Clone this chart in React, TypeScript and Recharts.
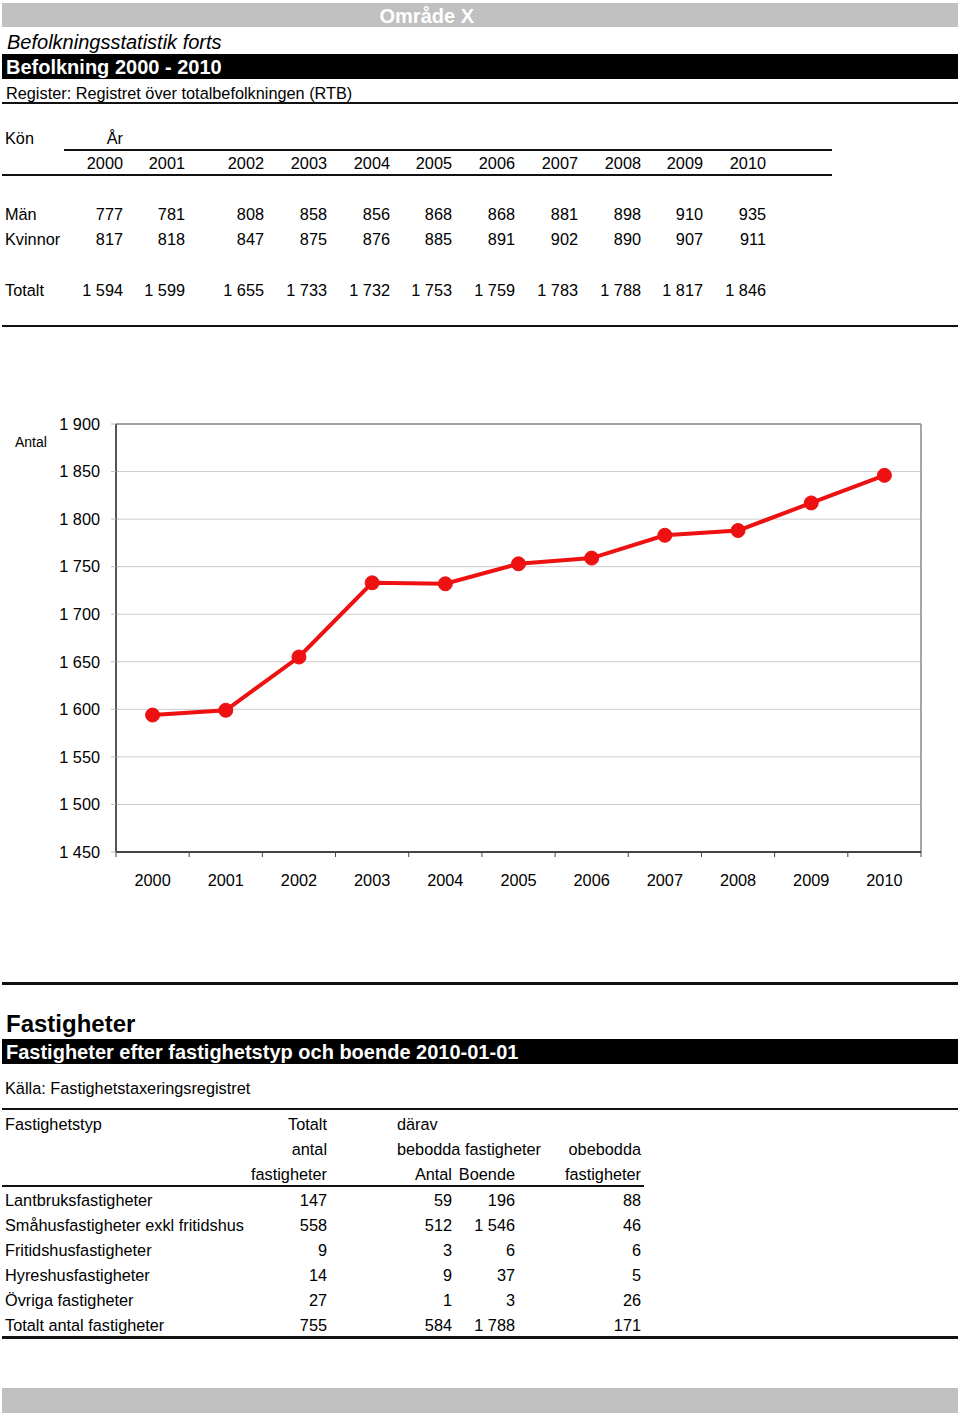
import React from "react"
import { CartesianGrid, Line, LineChart, ReferenceLine, XAxis, YAxis } from "recharts"

const years = ["2000", "2001", "2002", "2003", "2004", "2005", "2006", "2007", "2008", "2009", "2010"]
const men = [777, 781, 808, 858, 856, 868, 868, 881, 898, 910, 935]
const women = [817, 818, 847, 875, 876, 885, 891, 902, 890, 907, 911]
const totals = [1594, 1599, 1655, 1733, 1732, 1753, 1759, 1783, 1788, 1817, 1846]
const yTicks = [1450, 1500, 1550, 1600, 1650, 1700, 1750, 1800, 1850, 1900]

const propTypes = [
  "Lantbruksfastigheter",
  "Småhusfastigheter exkl fritidshus",
  "Fritidshusfastigheter",
  "Hyreshusfastigheter",
  "Övriga fastigheter",
  "Totalt antal fastigheter",
]
const propTotal = [147, 558, 9, 14, 27, 755]
const propInhabited = [59, 512, 3, 9, 1, 584]
const propResidents = [196, 1546, 6, 37, 3, 1788]
const propUninhabited = [88, 46, 6, 5, 26, 171]

// layout: right edges of the year columns in the top table
const colRight = [123, 185, 264, 327, 390, 452, 515, 578, 641, 703, 766]

const fmt = (n: number) => String(n).replace(/\B(?=(\d{3})+(?!\d))/g, " ")

const chartData = years.map((y, i) => ({ i, year: y, total: totals[i] }))
const xTicks = [...years.flatMap((_, i) => [i - 0.5, i]), years.length - 0.5]

function T({ x, y, s = 16.3, r = false, b = false, it = false, c = "#000", children }: any) {
  const style: React.CSSProperties = {
    position: "absolute",
    top: y + 1 - s * 0.6,
    lineHeight: `${s * 1.2}px`,
    fontSize: s,
    fontWeight: b ? "bold" : "normal",
    fontStyle: it ? "italic" : "normal",
    color: c,
    whiteSpace: "nowrap",
  }
  if (r) style.right = 960 - x
  else style.left = x
  return <div style={style}>{children}</div>
}

function Rule({ x1 = 2, x2 = 958, y, h = 2, c = "#111" }: any) {
  return <div style={{ position: "absolute", left: x1, width: x2 - x1, top: y - h / 2, height: h, background: c }} />
}

function Bar({ y1, y2, c }: any) {
  return <div style={{ position: "absolute", left: 2, width: 956, top: y1, height: y2 - y1, background: c }} />
}

function XTick(props: any) {
  const { x, y, payload } = props
  const v = payload.value
  if (Number.isInteger(v)) {
    return (
      <text x={x} y={y + 34} textAnchor="middle" fontSize={16.3} fill="#000">
        {years[v]}
      </text>
    )
  }
  return <line x1={x} y1={y} x2={x} y2={y + 5} stroke="#444" strokeWidth={1} />
}

function PopChart() {
  return (
    <div style={{ position: "absolute", left: 0, top: 404 }}>
      <LineChart width={960} height={488} data={chartData} margin={{ top: 20, right: 39, bottom: 0, left: 1 }}>
        <CartesianGrid horizontal vertical={false} stroke="#cccccc" />
        <XAxis
          dataKey="i"
          type="number"
          domain={[-0.5, 10.5]}
          ticks={xTicks}
          interval={0}
          tickLine={false}
          tickSize={0}
          tickMargin={0}
          height={40}
          axisLine={{ stroke: "#444", strokeWidth: 2 }}
          tick={<XTick />}
        />
        <YAxis
          type="number"
          domain={[1450, 1900]}
          ticks={yTicks}
          interval={0}
          width={115}
          tickSize={5}
          tickMargin={11}
          tickLine={{ stroke: "#bbbbbb" }}
          axisLine={{ stroke: "#555", strokeWidth: 2 }}
          tick={{ fontSize: 16.3, fill: "#000" }}
          tickFormatter={fmt}
        />
        <ReferenceLine y={1900} stroke="#888" strokeWidth={1.5} />
        <ReferenceLine x={10.5} stroke="#888" strokeWidth={1.5} />
        <Line
          type="linear"
          dataKey="total"
          stroke="#ee1111"
          strokeWidth={4}
          dot={{ r: 7, fill: "#ee1111", stroke: "#ee1111", strokeWidth: 1 }}
          isAnimationActive={false}
        />
      </LineChart>
    </div>
  )
}

export default function App() {
  const rowY = (i: number) => 1199.5 + i * 25.1
  return (
    <div
      style={{
        position: "absolute",
        left: 0,
        top: 0,
        width: 960,
        height: 1415,
        background: "#fff",
        fontFamily: "'Liberation Sans', Arial, Helvetica, sans-serif",
        overflow: "hidden",
      }}
    >
      <Bar y1={3} y2={27} c="#c0c0c0" />
      <T x={474} y={15} s={20} r b c="#fff">Område X</T>
      <T x={7} y={41} s={20} it>Befolkningsstatistik forts</T>
      <Bar y1={54} y2={79} c="#000" />
      <T x={6} y={66} s={20} b c="#fff">Befolkning 2000 - 2010</T>
      <T x={6} y={93}>Register: Registret över totalbefolkningen (RTB)</T>
      <Rule y={103} />

      <T x={5} y={138}>Kön</T>
      <T x={123} y={138} r>År</T>
      <Rule x1={64} x2={832} y={149.5} />
      {years.map((yr, i) => (
        <T key={yr} x={colRight[i]} y={163} r>{yr}</T>
      ))}
      <Rule x1={2} x2={832} y={175} />

      <T x={5} y={214}>Män</T>
      <T x={5} y={239}>Kvinnor</T>
      <T x={5} y={290}>Totalt</T>
      {years.map((yr, i) => (
        <React.Fragment key={yr}>
          <T x={colRight[i]} y={214} r>{fmt(men[i])}</T>
          <T x={colRight[i]} y={239} r>{fmt(women[i])}</T>
          <T x={colRight[i]} y={290} r>{fmt(totals[i])}</T>
        </React.Fragment>
      ))}
      <Rule y={326} />

      <T x={15} y={441} s={14}>Antal</T>
      <PopChart />

      <Rule y={983} h={3} />
      <T x={6} y={1023} s={24} b>Fastigheter</T>
      <Bar y1={1039} y2={1064} c="#000" />
      <T x={6} y={1051} s={20} b c="#fff">Fastigheter efter fastighetstyp och boende 2010-01-01</T>
      <T x={5} y={1088}>Källa: Fastighetstaxeringsregistret</T>
      <Rule y={1109} />

      <T x={5} y={1124}>Fastighetstyp</T>
      <T x={327} y={1124} r>Totalt</T>
      <T x={397} y={1124}>därav</T>
      <T x={327} y={1149} r>antal</T>
      <T x={397} y={1149}>bebodda fastigheter</T>
      <T x={641} y={1149} r>obebodda</T>
      <T x={327} y={1174} r>fastigheter</T>
      <T x={452} y={1174} r>Antal</T>
      <T x={515} y={1174} r>Boende</T>
      <T x={641} y={1174} r>fastigheter</T>
      <Rule x1={2} x2={644} y={1186} />

      {propTypes.map((name, i) => (
        <React.Fragment key={name}>
          <T x={5} y={rowY(i)}>{name}</T>
          <T x={327} y={rowY(i)} r>{fmt(propTotal[i])}</T>
          <T x={452} y={rowY(i)} r>{fmt(propInhabited[i])}</T>
          <T x={515} y={rowY(i)} r>{fmt(propResidents[i])}</T>
          <T x={641} y={rowY(i)} r>{fmt(propUninhabited[i])}</T>
        </React.Fragment>
      ))}
      <Rule y={1337} h={3} />

      <Bar y1={1388} y2={1413} c="#c0c0c0" />
    </div>
  )
}
